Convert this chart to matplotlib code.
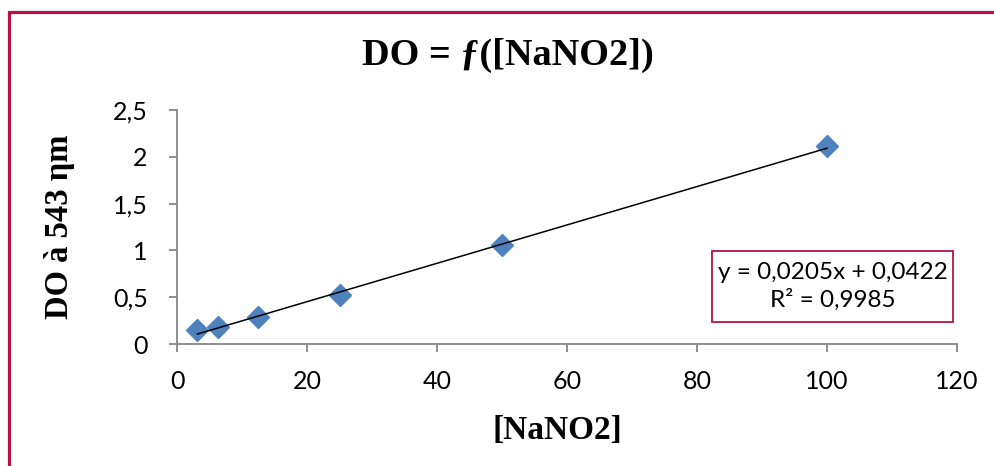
"""Calibration curve DO = f([NaNO2]) with linear trendline."""

import matplotlib
matplotlib.use('Agg')
import matplotlib.pyplot as plt
from matplotlib.patches import Rectangle
import numpy as np

conc = [3.125, 6.25, 12.5, 25, 50, 100]
do_543 = [0.15, 0.18, 0.29, 0.52, 1.06, 2.115]
slope = 0.0205
intercept = 0.0422
r2 = 0.9985

x_ticks = [0, 20, 40, 60, 80, 100, 120]
y_ticks = [0, 0.5, 1, 1.5, 2, 2.5]
y_tick_labels = ['0', '0,5', '1', '1,5', '2', '2,5']

BLUE = '#4F81BD'
CRIMSON = '#B8124C'
GREY = '#868686'
SANS = ['Lato', 'DejaVu Sans']
SERIF = ['Liberation Serif', 'DejaVu Serif']


def main():
    fig = plt.figure(figsize=(9.95, 4.66), dpi=100)
    ax = fig.add_axes([0.1779, 0.2618, 0.7839, 0.5021])

    # outer frame of the chart (only top and left are in view)
    fig.add_artist(Rectangle((8.5 / 995, -0.2), 1.3, 0.2 + (466 - 12) / 466,
                             transform=fig.transFigure, fill=False,
                             edgecolor=CRIMSON, linewidth=2.3))

    ax.plot(conc, do_543, linestyle='none', marker='D', markersize=11,
            color=BLUE, zorder=3)
    xs = np.array([conc[0], conc[-1]])
    ax.plot(xs, slope * xs + intercept, color='black', linewidth=1.1, zorder=4)

    ax.set_xlim(0, 120)
    ax.set_ylim(0, 2.5)
    ax.set_xticks(x_ticks)
    ax.set_xticklabels([str(t) for t in x_ticks], family=SANS, fontsize=18)
    ax.set_yticks(y_ticks)
    ax.set_yticklabels(y_tick_labels, family=SANS, fontsize=18)
    ax.tick_params(direction='out', length=6, width=1.3, color=GREY)
    ax.tick_params(axis='y', pad=15)
    ax.tick_params(axis='x', pad=13)

    for side in ['top', 'right']:
        ax.spines[side].set_visible(False)
    for side in ['left', 'bottom']:
        ax.spines[side].set_color(GREY)
        ax.spines[side].set_linewidth(1.3)

    # trendline label box
    ax.add_patch(Rectangle((0.686, 0.094), 0.309, 0.304,
                           transform=ax.transAxes, facecolor='white',
                           edgecolor=CRIMSON, linewidth=1.3, clip_on=False,
                           zorder=5))
    eq = f'y = {slope:.4f}x + {intercept:.4f}\nR² = {r2:.4f}'.replace('.', ',')
    ax.text(0.8405, 0.246, eq, transform=ax.transAxes, ha='center',
            va='center', multialignment='center', family=SANS,
            fontsize=17.5, linespacing=1.35, zorder=6)

    fig.text(0.51, 0.88, 'DO = ƒ([NaNO2])', ha='center', va='center',
             family=SERIF, fontsize=27.5, fontweight='bold')
    fig.text(0.06, 0.513, 'DO à 543 ηm', ha='center', va='center',
             rotation=90, family=SERIF, fontsize=23.5, fontweight='bold')
    fig.text(0.56, 0.077, '[NaNO2]', ha='center', va='center',
             family=SERIF, fontsize=24, fontweight='bold')

    fig.savefig('out.png', dpi=100)


if __name__ == "__main__":
    main()
